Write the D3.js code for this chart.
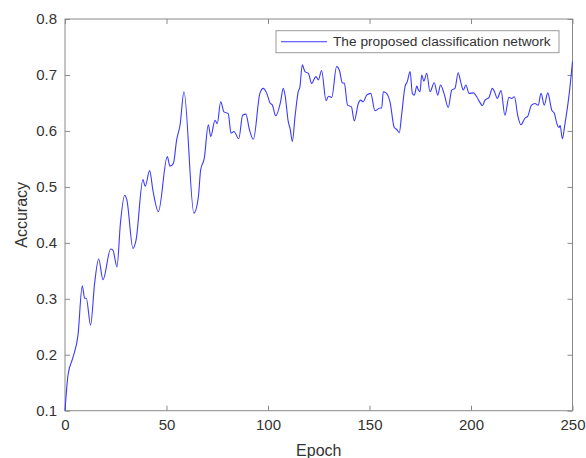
<!DOCTYPE html>
<html>
<head>
<meta charset="utf-8">
<script src="https://cdn.jsdelivr.net/npm/d3@7"></script>
<style>
    body { margin: 0; background: #fff; }
    text { font-family: "Liberation Sans", Arial, sans-serif; fill: #333; }
</style>
</head>
<body>
<div id="chart"></div>
<script>

// values
var epochs = [0, 1.5, 4, 6.4, 8.5, 9.7, 10.5, 12.6, 14.6, 16.6, 18.7, 22.5, 23.6, 25.6, 27.3, 29.4, 30.5,
    33.5, 35, 38.4, 39.5, 41.7, 43.3, 46, 50.4, 51.7, 53.4, 55, 56.7, 58.6, 63.5, 65.7, 66.8, 68.6,
    70.6, 71.8, 73.9, 75, 76.7, 78.3, 80.4, 81.8, 83.2, 85.6, 87.5, 89.1, 90.8, 92.8, 96, 97.7, 99.3,
    101, 102.2, 103.8, 106.2, 107.5, 108.4, 110, 110.9, 112, 113.3, 114.9, 115.7, 116.9, 118.2, 119.9,
    121.5, 123.6, 124.8, 126.4, 128.6, 129.8, 131.4, 133.8, 135.2, 136.6, 137.6, 139.2, 141.1, 142.5,
    144.5, 145.6, 146.9, 148.6, 150.6, 152.7, 155.2, 156, 156.8, 158.1, 160.1, 162.2, 163.3, 164.7,
    165.8, 167.5, 168.6, 170, 171.1, 172.1, 173.3, 174.1, 174.9, 175.7, 176.8, 178.2, 179.8, 181.9,
    183.6, 185, 186.7, 188.8, 190.5, 192.1, 193.7, 194.9, 196.2, 197.5, 199, 201.2, 202.8, 204.4,
    205.6, 206.9, 208.9, 210.5, 211.8, 212.9, 214.8, 216.7, 218.7, 220, 221.4, 223, 224.6, 226.6,
    227.9, 229.8, 231.5, 233.1, 234.5, 236.1, 237.8, 239.8, 241.1, 242.3, 243.4, 243.9, 245, 246.3,
    248.3, 250];
var accuracy = [0.100, 0.164, 0.196, 0.235, 0.323, 0.301, 0.301, 0.253, 0.328, 0.371, 0.334, 0.389, 0.387,
    0.357, 0.435, 0.485, 0.476, 0.390, 0.405, 0.513, 0.501, 0.529, 0.494, 0.456, 0.554, 0.537, 0.542,
    0.584, 0.611, 0.670, 0.453, 0.482, 0.530, 0.551, 0.611, 0.590, 0.619, 0.613, 0.652, 0.634, 0.631,
    0.596, 0.599, 0.586, 0.628, 0.630, 0.603, 0.585, 0.667, 0.676, 0.668, 0.650, 0.646, 0.627, 0.652,
    0.676, 0.664, 0.616, 0.604, 0.581, 0.625, 0.670, 0.678, 0.718, 0.706, 0.703, 0.685, 0.697, 0.691,
    0.708, 0.654, 0.662, 0.660, 0.715, 0.708, 0.686, 0.685, 0.646, 0.643, 0.618, 0.649, 0.655, 0.652,
    0.664, 0.667, 0.636, 0.641, 0.641, 0.670, 0.668, 0.652, 0.606, 0.603, 0.597, 0.628, 0.679, 0.688,
    0.706, 0.667, 0.664, 0.680, 0.673, 0.670, 0.700, 0.689, 0.703, 0.670, 0.686, 0.664, 0.682, 0.667,
    0.642, 0.673, 0.676, 0.704, 0.688, 0.673, 0.682, 0.667, 0.668, 0.661, 0.651, 0.645, 0.655, 0.660,
    0.676, 0.668, 0.658, 0.672, 0.628, 0.660, 0.658, 0.661, 0.628, 0.611, 0.623, 0.626, 0.646, 0.649,
    0.646, 0.667, 0.646, 0.668, 0.637, 0.631, 0.613, 0.606, 0.610, 0.586, 0.613, 0.664, 0.724];
var xTicks = [0, 50, 100, 150, 200, 250];
var yTicks = [0.1, 0.2, 0.3, 0.4, 0.5, 0.6, 0.7, 0.8];
var seriesName = "The proposed classification network";

var width = 586, height = 458;
var margin = { top: 19, right: 13.5, bottom: 47.3, left: 65 };
var w = width - margin.left - margin.right,
    h = height - margin.top - margin.bottom;
var axisColor = "#8a8a8a";

var x = d3.scaleLinear().domain([0, 250]).range([0, w]);
var y = d3.scaleLinear().domain([0.1, 0.8]).range([h, 0]);

var svg = d3.select("#chart").append("svg")
    .attr("width", width)
    .attr("height", height)
    .append("g")
    .attr("transform", "translate(" + margin.left + "," + margin.top + ")");

var points = epochs.map(function (e, i) { return { epoch: e, acc: accuracy[i] }; });

// axes, ticks inward and mirrored (box on)
function styleAxis(g) {
    g.select(".domain").remove();
    g.selectAll(".tick line").attr("stroke", axisColor);
    g.selectAll(".tick text").style("font-size", "15px").style("fill", "#333");
}

svg.append("g")
    .attr("transform", "translate(0," + h + ")")
    .call(d3.axisBottom(x).tickValues(xTicks).tickSizeInner(-5).tickSizeOuter(0).tickPadding(9))
    .call(styleAxis);
svg.append("g")
    .call(d3.axisTop(x).tickValues(xTicks).tickSizeInner(-5).tickSizeOuter(0).tickFormat(""))
    .call(styleAxis);
svg.append("g")
    .call(d3.axisLeft(y).tickValues(yTicks).tickSizeInner(-5).tickSizeOuter(0).tickPadding(8).tickFormat(d3.format(".1f")))
    .call(styleAxis);
svg.append("g")
    .attr("transform", "translate(" + w + ",0)")
    .call(d3.axisRight(y).tickValues(yTicks).tickSizeInner(-5).tickSizeOuter(0).tickFormat(""))
    .call(styleAxis);

svg.append("rect")
    .attr("width", w)
    .attr("height", h)
    .attr("fill", "none")
    .attr("stroke", axisColor)
    .attr("stroke-width", 1);

var line = d3.line()
    .x(function (d) { return x(d.epoch); })
    .y(function (d) { return y(d.acc); })
    .curve(d3.curveMonotoneX);

svg.append("path")
    .datum(points)
    .attr("d", line)
    .attr("fill", "none")
    .attr("stroke", "#3a3aff")
    .attr("stroke-width", 1.1);

// axis titles
svg.append("text")
    .attr("x", w / 2)
    .attr("y", h + 45)
    .attr("text-anchor", "middle")
    .style("font-size", "16px")
    .text("Epoch");
svg.append("text")
    .attr("transform", "translate(-38," + h / 2 + ") rotate(-90)")
    .attr("text-anchor", "middle")
    .style("font-size", "16px")
    .text("Accuracy");

// legend
var legend = svg.append("g").attr("transform", "translate(" + (276 - margin.left) + "," + (30.7 - margin.top) + ")");
legend.append("rect")
    .attr("width", 283)
    .attr("height", 22)
    .attr("fill", "#fff")
    .attr("stroke", "#9a9a9a");
legend.append("line")
    .attr("x1", 5).attr("x2", 51)
    .attr("y1", 11).attr("y2", 11)
    .attr("stroke", "#3a3aff")
    .attr("stroke-width", 1.1);
legend.append("text")
    .attr("x", 57)
    .attr("y", 15.7)
    .style("font-size", "13.7px")
    .text(seriesName);

</script>
</body>
</html>
